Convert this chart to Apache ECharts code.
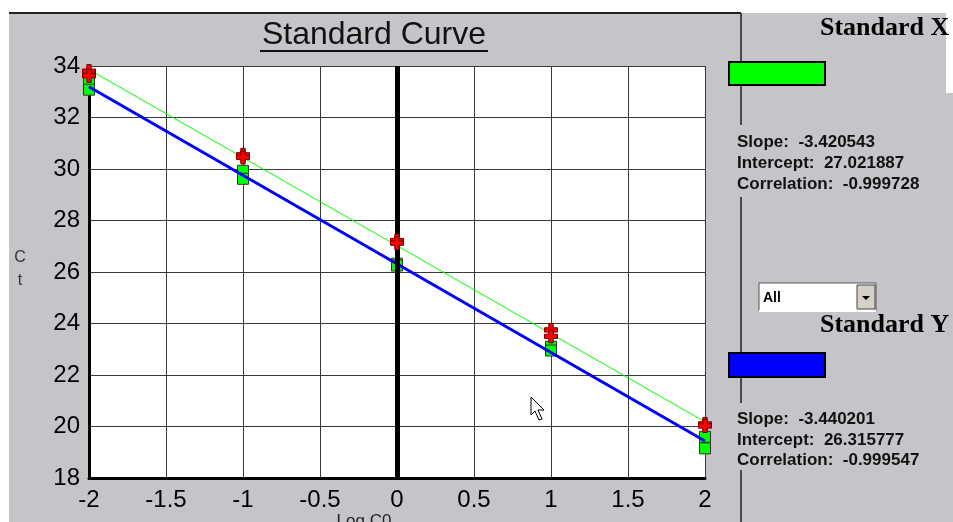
<!DOCTYPE html>
<html>
<head>
<meta charset="utf-8">
<script src="https://cdn.jsdelivr.net/npm/echarts@6/dist/echarts.min.js"></script>
<style>
html,body{margin:0;padding:0;background:#fff;}
#chart{width:953px;height:522px;}
</style>
</head>
<body>
<div id="chart"></div>
<script>
// ---- data ----
const xTickValues = [-2, -1.5, -1, -0.5, 0, 0.5, 1, 1.5, 2];
const yTickValues = [18, 20, 22, 24, 26, 28, 30, 32, 34];
// Standard X replicates (red crosses)
const stdXLogC0 = [-2, -2, -1, -1, 0, 0, 1, 1, 2, 2];
const stdXCt    = [33.8, 33.62, 30.55, 30.45, 27.22, 27.12, 23.75, 23.5, 20.1, 20.02];
// Standard Y replicates (green squares)
const stdYLogC0 = [-2, -2, -1, -1, 0, 0, 1, 1, 2, 2];
const stdYCt    = [33.45, 33.08, 29.93, 29.62, 26.32, 26.25, 23.1, 22.95, 19.6, 19.15];
// fitted lines (end points)
const fitXLogC0 = [-2, 2];
const fitXCt    = [33.863, 20.181];
const fitYLogC0 = [-2, 2];
const fitYCt    = [33.196, 19.435];
// stats text
const stdXStats = ['Slope:  -3.420543', 'Intercept:  27.021887', 'Correlation:  -0.999728'];
const stdYStats = ['Slope:  -3.440201', 'Intercept:  26.315777', 'Correlation:  -0.999547'];

const zip = (a, b) => a.map((v, i) => [v, b[i]]);

const chart = echarts.init(document.getElementById('chart'), null, {renderer: 'canvas'});
const GRAY = '#c6c4c8';
const FONT = 'Liberation Sans, Arial, sans-serif';

function txt(text, x, y, opts) {
  return {
    type: 'text', x: x, y: y, z: opts.z || 20, silent: true,
    style: Object.assign({
      text: text, fill: '#000', fontFamily: FONT, fontSize: 14,
      textAlign: 'left', textVerticalAlign: 'middle'
    }, opts.style || {})
  };
}

const graphics = [
  {type: 'rect', z: -10, silent: true, shape: {x: 9, y: 13, width: 944, height: 509}, style: {fill: GRAY}},
  {type: 'rect', z: -9, silent: true, shape: {x: 946, y: 13, width: 7, height: 80}, style: {fill: '#fff'}},
  // top border
  {type: 'line', z: 5, silent: true, shape: {x1: 9, y1: 13, x2: 741, y2: 13}, style: {stroke: '#222', lineWidth: 2}},
  // right vertical separator segments
  {type: 'line', z: 5, silent: true, shape: {x1: 741, y1: 13, x2: 741, y2: 125}, style: {stroke: '#222', lineWidth: 1.5}},
  {type: 'line', z: 5, silent: true, shape: {x1: 741, y1: 197, x2: 741, y2: 403}, style: {stroke: '#222', lineWidth: 1.5}},
  {type: 'line', z: 5, silent: true, shape: {x1: 741, y1: 470, x2: 741, y2: 522}, style: {stroke: '#222', lineWidth: 1.5}},
  // title
  txt('Standard Curve', 374, 35, {style: {fontSize: 32, textAlign: 'center', fill: '#111'}}),
  {type: 'line', z: 20, silent: true, shape: {x1: 260, y1: 51, x2: 488, y2: 51}, style: {stroke: '#111', lineWidth: 2}},
  // axis names
  txt('C', 20, 258, {style: {fontSize: 16, textAlign: 'center', fill: '#333'}}),
  txt('t', 20, 281, {style: {fontSize: 16, textAlign: 'center', fill: '#333'}}),
  txt('Log C0', 364, 521, {style: {fontSize: 17, textAlign: 'center', fill: '#222'}}),
  // Standard X legend
  txt('Standard X', 820, 28, {style: {fontSize: 26, fontWeight: 'bold', fontFamily: 'Liberation Serif, Times New Roman, serif'}}),
  {type: 'rect', z: 10, silent: true, shape: {x: 729, y: 62, width: 96, height: 23}, style: {fill: '#00ff00', stroke: '#000', lineWidth: 2}},
  txt(stdXStats[0], 737, 142, {style: {fontSize: 17, fontWeight: 'bold', fill: '#111'}}),
  txt(stdXStats[1], 737, 163, {style: {fontSize: 17, fontWeight: 'bold', fill: '#111'}}),
  txt(stdXStats[2], 737, 184, {style: {fontSize: 17, fontWeight: 'bold', fill: '#111'}}),
  // dropdown
  {type: 'rect', z: 10, silent: true, shape: {x: 759, y: 283, width: 117, height: 28}, style: {fill: '#fff', stroke: '#555', lineWidth: 1}},
  {type: 'line', z: 11, silent: true, shape: {x1: 759, y1: 311, x2: 876, y2: 311}, style: {stroke: '#fff', lineWidth: 2}},
  {type: 'rect', z: 11, silent: true, shape: {x: 857, y: 285, width: 18, height: 24}, style: {fill: '#d4d0c8', stroke: '#444', lineWidth: 1}},
  {type: 'polygon', z: 12, silent: true, shape: {points: [[862, 296], [870, 296], [866, 300]]}, style: {fill: '#000'}},
  txt('All', 763, 298, {style: {fontSize: 14, fontWeight: 'bold', fill: '#000'}}),
  // Standard Y legend
  txt('Standard Y', 820, 325, {style: {fontSize: 26, fontWeight: 'bold', fontFamily: 'Liberation Serif, Times New Roman, serif'}}),
  {type: 'rect', z: 10, silent: true, shape: {x: 729, y: 353, width: 96, height: 24}, style: {fill: '#0000ff', stroke: '#000', lineWidth: 2}},
  txt(stdYStats[0], 737, 419, {style: {fontSize: 17, fontWeight: 'bold', fill: '#111'}}),
  txt(stdYStats[1], 737, 440, {style: {fontSize: 17, fontWeight: 'bold', fill: '#111'}}),
  txt(stdYStats[2], 737, 460, {style: {fontSize: 17, fontWeight: 'bold', fill: '#111'}}),
  // mouse cursor
  {type: 'polygon', z: 30, silent: true,
   shape: {points: [[531, 397], [531, 415], [535, 411], [539, 420], [542, 419], [538, 410], [544, 410]]},
   style: {fill: '#fff', stroke: '#000', lineWidth: 1}}
];

const plusPath = 'path://M4,0H8V4H12V8H8V12H4V8H0V4H4Z';

const option = {
  animation: false,
  backgroundColor: '#fff',
  grid: {left: 89, top: 66, right: 248, bottom: 44, show: true, backgroundColor: '#fff', borderWidth: 0, containLabel: false},
  xAxis: {
    type: 'value', min: -2, max: 2, interval: 0.5,
    axisLine: {show: true, onZero: false, lineStyle: {color: '#000', width: 3}},
    axisTick: {show: false},
    splitLine: {show: true, lineStyle: {color: '#3a3a3a', width: 1}},
    axisLabel: {
      color: '#000', fontSize: 24, fontFamily: FONT, margin: 10,
      formatter: function (v) { return xTickValues.indexOf(v) >= 0 ? String(v) : ''; }
    }
  },
  yAxis: {
    type: 'value', min: 18, max: 34, interval: 2,
    axisLine: {show: true, onZero: false, lineStyle: {color: '#000', width: 3}},
    axisTick: {show: false},
    splitLine: {show: true, lineStyle: {color: '#3a3a3a', width: 1}},
    axisLabel: {
      color: '#000', fontSize: 24, fontFamily: FONT, margin: 9,
      formatter: function (v) { return yTickValues.indexOf(v) >= 0 ? String(v) : ''; }
    }
  },
  series: [
    {
      type: 'scatter', name: 'Standard Y points', z: 3,
      data: zip(stdYLogC0, stdYCt),
      symbol: 'rect', symbolSize: [11, 11],
      itemStyle: {color: '#00ff00', borderColor: '#333', borderWidth: 1, opacity: 1}
    },
    {
      type: 'line', name: 'Standard Y fit', z: 4,
      data: zip(fitYLogC0, fitYCt),
      showSymbol: false, symbol: 'none',
      lineStyle: {color: '#0000ff', width: 3},
      markLine: {
        silent: true, symbol: ['none', 'none'], label: {show: false},
        lineStyle: {color: '#000', width: 5, type: 'solid'},
        data: [{xAxis: 0}]
      }
    },
    {
      type: 'line', name: 'Standard X fit', z: 5,
      data: zip(fitXLogC0, fitXCt),
      showSymbol: false, symbol: 'none',
      lineStyle: {color: '#00ff00', width: 1}
    },
    {
      type: 'scatter', name: 'Standard X points', z: 6,
      data: zip(stdXLogC0, stdXCt),
      symbol: plusPath, symbolSize: 13,
      itemStyle: {color: '#ff0000', borderColor: '#6a0000', borderWidth: 1, opacity: 1}
    }
  ],
  graphic: graphics
};
chart.setOption(option);
</script>
</body>
</html>
